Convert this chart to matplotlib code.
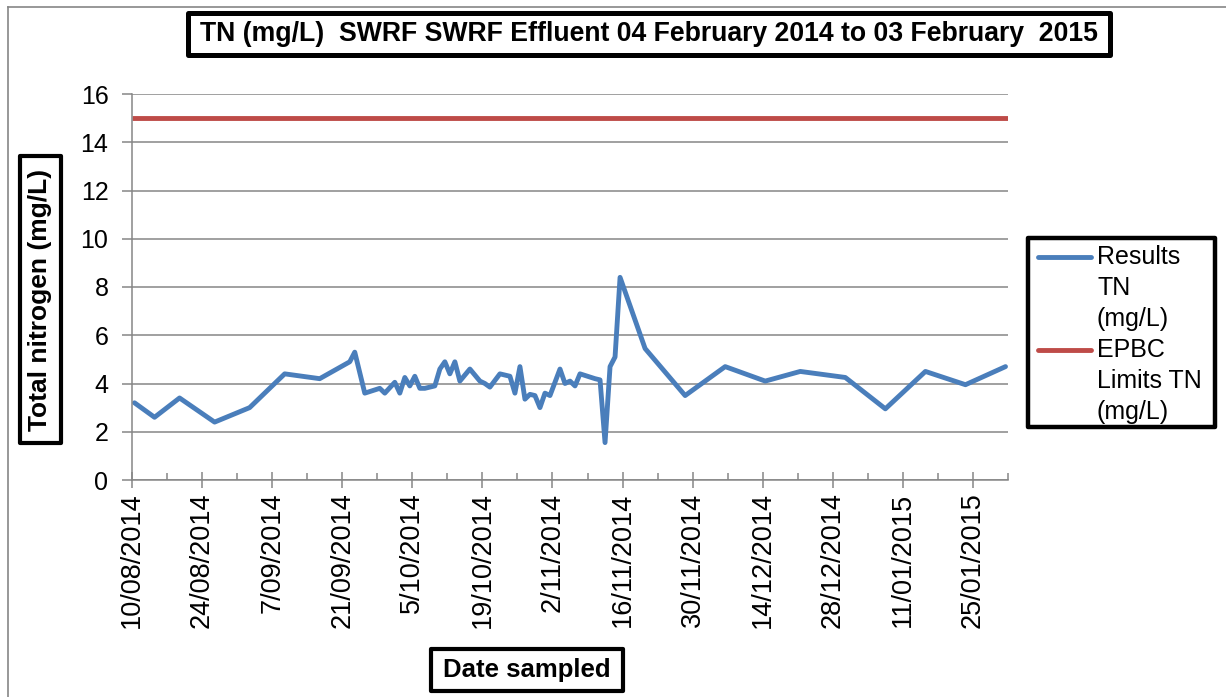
import pandas as pd
import numpy as np
import matplotlib
matplotlib.use("Agg")
import matplotlib.pyplot as plt
import matplotlib.dates as mdates
from matplotlib.patches import Rectangle
from matplotlib.lines import Line2D
from matplotlib.ticker import FuncFormatter, MultipleLocator

# data
sample_dates = ["2014-08-10", "2014-08-14", "2014-08-19", "2014-08-26", "2014-09-02",
                "2014-09-09", "2014-09-16", "2014-09-22", "2014-09-23", "2014-09-25",
                "2014-09-28", "2014-09-29", "2014-10-01", "2014-10-02", "2014-10-03",
                "2014-10-04", "2014-10-05", "2014-10-06", "2014-10-07", "2014-10-09",
                "2014-10-10", "2014-10-11", "2014-10-12", "2014-10-13", "2014-10-14",
                "2014-10-16", "2014-10-18", "2014-10-19", "2014-10-20", "2014-10-22",
                "2014-10-23", "2014-10-24", "2014-10-25", "2014-10-26", "2014-10-27",
                "2014-10-28", "2014-10-29", "2014-10-30", "2014-10-31", "2014-11-01",
                "2014-11-03", "2014-11-04", "2014-11-05", "2014-11-06", "2014-11-07",
                "2014-11-10", "2014-11-11", "2014-11-12", "2014-11-13", "2014-11-14",
                "2014-11-15", "2014-11-20", "2014-11-28", "2014-12-06", "2014-12-14",
                "2014-12-21", "2014-12-30", "2015-01-07", "2015-01-15", "2015-01-23",
                "2015-01-31"]
tn_results = [3.2, 2.6, 3.4, 2.4, 3.0, 4.4, 4.2, 4.9, 5.3, 3.6,
              3.8, 3.6, 4.05, 3.6, 4.25, 3.9, 4.3, 3.8, 3.8, 3.9,
              4.6, 4.9, 4.4, 4.9, 4.1, 4.6, 4.1, 4.0, 3.85, 4.4,
              4.35, 4.3, 3.6, 4.7, 3.35, 3.55, 3.5, 3.0, 3.6, 3.5,
              4.6, 4.0, 4.1, 3.9, 4.4, 4.2, 4.15, 1.55, 4.7, 5.1,
              8.4, 5.45, 3.5, 4.7, 4.1, 4.5, 4.25, 2.95, 4.5, 3.95,
              4.7]
epbc_limit = 15
axis_start = "2014-08-10"
axis_end = "2015-02-01"

title = "TN (mg/L)  SWRF SWRF Effluent 04 February 2014 to 03 February  2015"
legend_labels = [["Results", "TN", "(mg/L)"], ["EPBC", "Limits TN", "(mg/L)"]]

BLUE = "#4A7EBB"
RED = "#BE4B48"
GRAY = "#868686"

plt.rcParams["font.family"] = ["Liberation Sans", "DejaVu Sans"]

W, H = 1226, 697
def fx(x):
    return x / W
def fy(y):
    return 1 - y / H

fig = plt.figure(figsize=(W / 100, H / 100), dpi=100)
ax = fig.add_axes([fx(132), fy(480), fx(1008) - fx(132), fy(94) - fy(480)])

# excel puts each day in the middle of its slot
x = pd.to_datetime(sample_dates) + pd.Timedelta(hours=12)
start, end = pd.Timestamp(axis_start), pd.Timestamp(axis_end)

ax.plot(x, tn_results, color=BLUE, lw=3.5, solid_joinstyle="round", solid_capstyle="round")
ax.plot([start, end], [epbc_limit, epbc_limit], color=RED, lw=3.5, solid_capstyle="butt")

ax.set_xlim(start, end)
ax.set_ylim(0, 16)
ax.yaxis.set_major_locator(MultipleLocator(2))
ax.set_xticks(pd.date_range(start, end, freq="14D"))
ax.set_xticks(pd.date_range(start, end, freq="7D"), minor=True)
ax.xaxis.set_major_formatter(FuncFormatter(
    lambda v, p: "{}/{:02d}/{}".format(mdates.num2date(v).day, mdates.num2date(v).month, mdates.num2date(v).year)))

ax.grid(axis="y", color=GRAY, lw=1.1)
ax.set_axisbelow(True)
for s in ["top", "right"]:
    ax.spines[s].set_visible(False)
for s in ["left", "bottom"]:
    ax.spines[s].set_color(GRAY)
    ax.spines[s].set_linewidth(1.1)

ax.tick_params(axis="y", direction="out", length=7, width=1.1, color=GRAY, labelsize=18, pad=10)
ax.tick_params(axis="x", which="major", direction="inout", length=12, width=1.1, color=GRAY,
               labelsize=19.5, pad=3, labelrotation=90)
ax.tick_params(axis="x", which="minor", direction="in", length=5, width=1.1, color=GRAY)

# outer chart border (cut off at right and bottom)
fig.add_artist(Line2D([fx(8), fx(8)], [fy(7), 0], color=GRAY, lw=1.2))
fig.add_artist(Line2D([fx(8), 1], [fy(7), fy(7)], color=GRAY, lw=1.2))

def boxed(x0, y0, x1, y1, lw):
    fig.add_artist(Rectangle((fx(x0), fy(y1)), fx(x1) - fx(x0), fy(y0) - fy(y1),
                             transform=fig.transFigure, fc="white", ec="black", lw=lw,
                             joinstyle="round"))

# title
boxed(188, 13, 1110, 55, 3.6)
fig.text(fx(649), fy(34), title, ha="center", va="center", fontsize=19.2, fontweight="bold")

# axis titles
boxed(20, 156, 61, 443, 3.0)
fig.text(fx(40.5), fy(300), "Total nitrogen (mg/L)", ha="center", va="center", rotation=90,
         fontsize=19, fontweight="bold")
boxed(431, 649, 623, 691, 3.0)
fig.text(fx(527), fy(670), "Date sampled", ha="center", va="center", fontsize=18.5, fontweight="bold")

# legend
boxed(1028, 238, 1215, 427, 3.2)
for i, (lab, col) in enumerate(zip(legend_labels, [BLUE, RED])):
    y0 = 257 + i * 93
    fig.add_artist(Line2D([fx(1038), fx(1091)], [fy(y0), fy(y0)], color=col, lw=3.5,
                          solid_capstyle="round"))
    for j, line in enumerate(lab):
        fig.text(fx(1097), fy(y0 + j * 31), line, ha="left", va="center", fontsize=18)

fig.savefig("out.png", dpi=100)
